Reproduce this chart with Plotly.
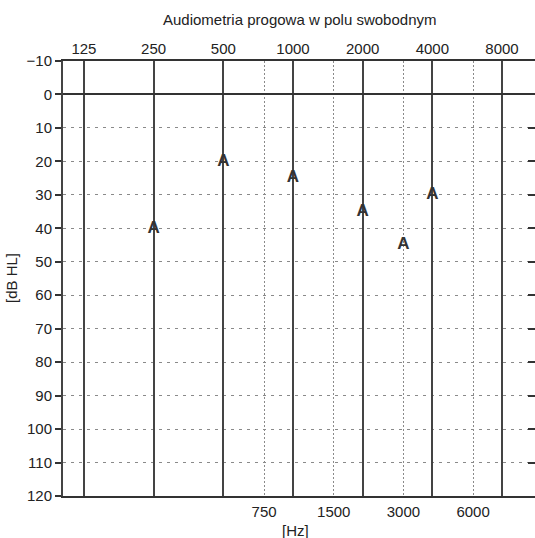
import plotly.graph_objects as go

# Data
freqs = [250, 500, 1000, 2000, 3000, 4000]
thresholds = [40, 20, 25, 35, 45, 30]
marker_label = "A"
octave_ticks = [125, 250, 500, 1000, 2000, 4000, 8000]
mid_ticks = [750, 1500, 3000, 6000]
db_ticks = list(range(-10, 130, 10))
db_labels = ["\u221210"] + [str(v) for v in range(0, 130, 10)]

FONT = "Liberation Sans, Arial, sans-serif"
FS = 15
xrange_log = [2.0065, 4.0455]
yrange = [120, -10]

fig = go.Figure()
fig.add_trace(go.Scatter(
    x=freqs, y=thresholds, mode="text", text=["<b>%s</b>" % marker_label] * len(freqs),
    textposition="middle center",
    textfont=dict(family="Liberation Sans, Arial, sans-serif", size=17, color="#333333"),
    hoverinfo="skip", showlegend=False, xaxis="x", yaxis="y"))
fig.add_trace(go.Scatter(
    x=[octave_ticks[0]], y=[db_ticks[0]], mode="markers", marker=dict(opacity=0),
    hoverinfo="skip", showlegend=False, xaxis="x2", yaxis="y2"))

fig.update_layout(
    width=535, height=538,
    margin=dict(l=63, r=0, t=61, b=42, autoexpand=False),
    paper_bgcolor="white", plot_bgcolor="white",
    font=dict(family=FONT, size=FS, color="#222222"),
    xaxis=dict(
        type="log", range=xrange_log, tickvals=mid_ticks, ticktext=[str(v) for v in mid_ticks],
        ticks="", showgrid=True, gridcolor="#8a8a8a", gridwidth=1, griddash="2px,2px",
        showline=True, linecolor="#333333", linewidth=2, zeroline=False,
        automargin=False, ticklabelstandoff=1,
        tickfont=dict(size=FS), fixedrange=True),
    xaxis2=dict(
        type="log", range=xrange_log, overlaying="x", side="top",
        tickvals=octave_ticks, ticktext=[str(v) for v in octave_ticks],
        ticks="", showgrid=True, gridcolor="#444444", gridwidth=2,
        showline=True, linecolor="#333333", linewidth=2, zeroline=False,
        automargin=False, ticklabelstandoff=-1,
        tickfont=dict(size=FS), fixedrange=True),
    yaxis=dict(
        range=yrange, tickvals=db_ticks, ticktext=db_labels,
        ticks="outside", ticklen=6, tickwidth=2, tickcolor="#333333",
        showgrid=True, gridcolor="#8a8a8a", gridwidth=1, griddash="3px,5px",
        zeroline=True, zerolinecolor="#333333", zerolinewidth=2,
        showline=True, linecolor="#444444", linewidth=2,
        automargin=False,
        tickfont=dict(size=FS), fixedrange=True),
    yaxis2=dict(
        range=yrange, tickvals=db_ticks, overlaying="y", side="right",
        ticks="inside", ticklen=7, tickwidth=2, tickcolor="#333333",
        showticklabels=False, showgrid=False, zeroline=False, showline=False,
        automargin=False, fixedrange=True),
    annotations=[
        dict(text="Audiometria progowa w polu swobodnym", xref="paper", yref="paper",
             x=0.5, y=(496 - 20) / 435, xanchor="center", yanchor="middle",
             showarrow=False, font=dict(size=FS, family=FONT, color="#222222")),
        dict(text="[Hz]", xref="paper", yref="paper",
             x=(295 - 63) / 472, y=(496 - 530) / 435, xanchor="center", yanchor="middle",
             showarrow=False, font=dict(size=FS, family=FONT, color="#222222")),
        dict(text="[dB HL]", xref="paper", yref="paper",
             x=(11 - 63) / 472, y=(496 - 278) / 435, xanchor="center", yanchor="middle",
             textangle=-90, showarrow=False, font=dict(size=FS, family=FONT, color="#222222")),
    ],
)

fig.write_html("out.html", config={"displayModeBar": False, "staticPlot": True},
               post_script="document.body.style.margin='0px';")
